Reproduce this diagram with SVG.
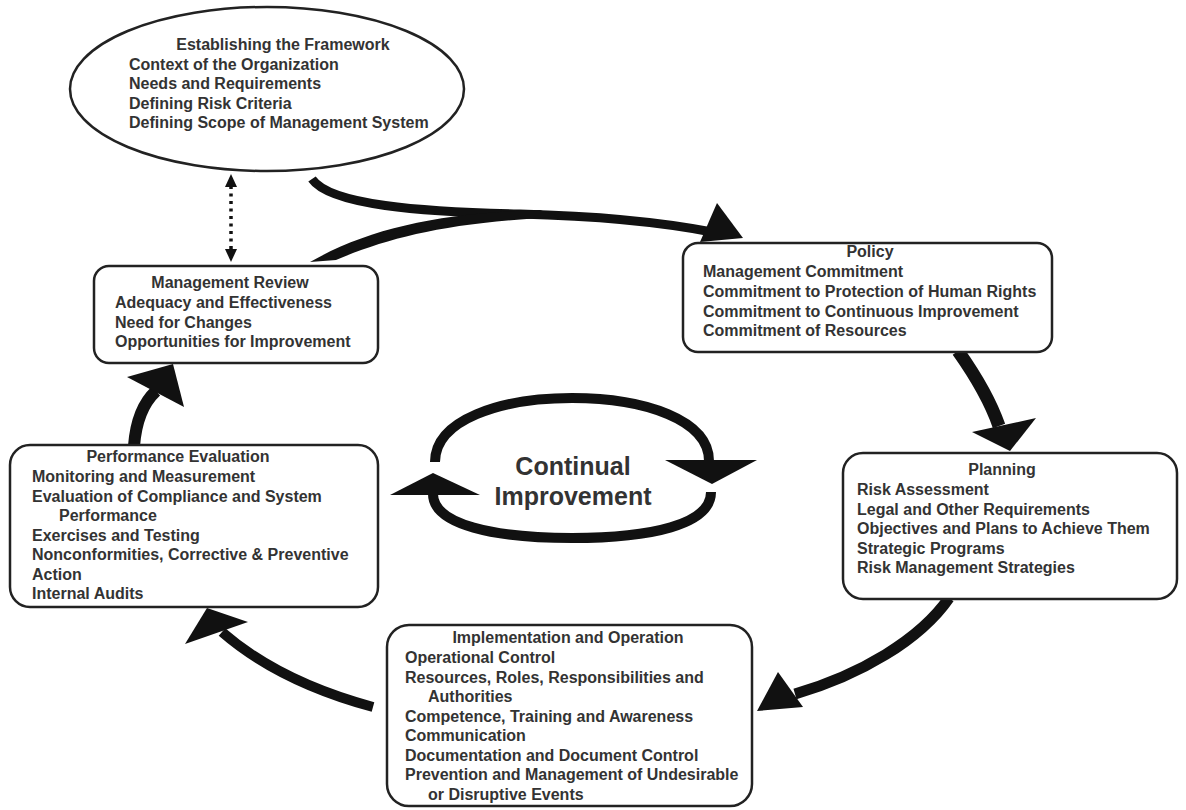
<svg xmlns="http://www.w3.org/2000/svg" width="1186" height="810" viewBox="0 0 1186 810">
<style>
  .box { fill: #ffffff; stroke: #222222; stroke-width: 2.5; }
  .t { font-family: "Liberation Sans", Arial, sans-serif; font-weight: bold; font-size: 16px; fill: #333333; }
  .c { text-anchor: middle; }
  .big { font-family: "Liberation Sans", Arial, sans-serif; font-weight: bold; font-size: 25px; fill: #333333; text-anchor: middle; }
  .shaft { fill: none; stroke: #111111; stroke-linecap: butt; }
  .head { fill: #111111; stroke: none; }
</style>
<rect width="1186" height="810" fill="#ffffff"/>

<g id="connectors">
  <!-- framework -> policy (with merge from management review) -->
  <path class="shaft" d="M312,179 C330,205 420,212 520,214 C600,216 660,222 712,232" stroke-width="9"/>
  <path class="head" d="M310,262 L336,260 C390,237 450,222 560,217 L540,210 C440,213 370,228 310,262 Z"/>
  <polygon class="head" points="717,203 743,238 700,242"/>
  <!-- dotted double arrow -->
  <line x1="231" y1="186" x2="231" y2="250" stroke="#111111" stroke-width="3.5" stroke-dasharray="3,4.5"/>
  <polygon class="head" points="231,174 225,187 237,187"/>
  <polygon class="head" points="231,262 225,249 237,249"/>
  <!-- policy -> planning -->
  <path class="shaft" d="M958,351 C975,375 990,400 999,426" stroke-width="13"/>
  <polygon class="head" points="972,432 1036,418 1010,451"/>
  <!-- planning -> implementation -->
  <path class="shaft" d="M949,598 C920,640 860,675 795,694" stroke-width="11"/>
  <polygon class="head" points="778,672 803,707 757,711"/>
  <!-- implementation -> performance -->
  <path class="shaft" d="M373,707 C310,690 260,665 222,632" stroke-width="10"/>
  <polygon class="head" points="185,644 248,622 207,608"/>
  <!-- performance -> management review -->
  <path class="shaft" d="M134,446 C136,420 143,403 156,391" stroke-width="12"/>
  <polygon class="head" points="127,377 184,407 173,364"/>
</g>

<g id="continual-improvement">
  <path class="shaft" d="M435,462 C435,420 500,398 572,398 C645,398 709,420 709,461" stroke-width="10"/>
  <polygon class="head" points="665,460 757,460 712,484"/>
  <path class="shaft" d="M711,492 C711,525 650,538 572,538 C495,538 433,525 433,494" stroke-width="10"/>
  <polygon class="head" points="390,495 480,495 433,473"/>
  <text class="big" x="573" y="475">Continual</text>
  <text class="big" x="573" y="505">Improvement</text>
</g>

<g id="framework">
  <ellipse class="box" cx="267" cy="89" rx="197" ry="82"/>
  <text class="t c" x="283" y="50">Establishing the Framework</text>
  <text class="t" x="129" y="69.5">Context of the Organization</text>
  <text class="t" x="129" y="89">Needs and Requirements</text>
  <text class="t" x="129" y="108.5">Defining Risk Criteria</text>
  <text class="t" x="129" y="128">Defining Scope of Management System</text>
</g>

<g id="policy">
  <rect class="box" x="683" y="243" width="369" height="109" rx="15"/>
  <text class="t c" x="870" y="257">Policy</text>
  <text class="t" x="703" y="277">Management Commitment</text>
  <text class="t" x="703" y="297">Commitment to Protection of Human Rights</text>
  <text class="t" x="703" y="317">Commitment to Continuous Improvement</text>
  <text class="t" x="703" y="336">Commitment of Resources</text>
</g>

<g id="management-review">
  <rect class="box" x="94" y="266" width="284" height="97" rx="15"/>
  <text class="t c" x="230" y="288">Management Review</text>
  <text class="t" x="115" y="308">Adequacy and Effectiveness</text>
  <text class="t" x="115" y="327.5">Need for Changes</text>
  <text class="t" x="115" y="347">Opportunities for Improvement</text>
</g>

<g id="performance-evaluation">
  <rect class="box" x="10" y="445" width="368" height="162" rx="20"/>
  <text class="t c" x="178" y="462">Performance Evaluation</text>
  <text class="t" x="32" y="482">Monitoring and Measurement</text>
  <text class="t" x="32" y="501.5">Evaluation of Compliance and System</text>
  <text class="t" x="59" y="521">Performance</text>
  <text class="t" x="32" y="540.5">Exercises and Testing</text>
  <text class="t" x="32" y="560">Nonconformities, Corrective &amp; Preventive</text>
  <text class="t" x="32" y="579.5">Action</text>
  <text class="t" x="32" y="599">Internal Audits</text>
</g>

<g id="planning">
  <rect class="box" x="843" y="453" width="334" height="146" rx="20"/>
  <text class="t c" x="1002" y="475">Planning</text>
  <text class="t" x="857" y="495">Risk Assessment</text>
  <text class="t" x="857" y="514.5">Legal and Other Requirements</text>
  <text class="t" x="857" y="534">Objectives and Plans to Achieve Them</text>
  <text class="t" x="857" y="553.5">Strategic Programs</text>
  <text class="t" x="857" y="573">Risk Management Strategies</text>
</g>

<g id="implementation">
  <rect class="box" x="387" y="625" width="365" height="181" rx="22"/>
  <text class="t c" x="568" y="643">Implementation and Operation</text>
  <text class="t" x="405" y="663">Operational Control</text>
  <text class="t" x="405" y="682.5">Resources, Roles, Responsibilities and</text>
  <text class="t" x="428" y="702">Authorities</text>
  <text class="t" x="405" y="721.5">Competence, Training and Awareness</text>
  <text class="t" x="405" y="741">Communication</text>
  <text class="t" x="405" y="760.5">Documentation and Document Control</text>
  <text class="t" x="405" y="780">Prevention and Management of Undesirable</text>
  <text class="t" x="428" y="799.5">or Disruptive Events</text>
</g>
</svg>
